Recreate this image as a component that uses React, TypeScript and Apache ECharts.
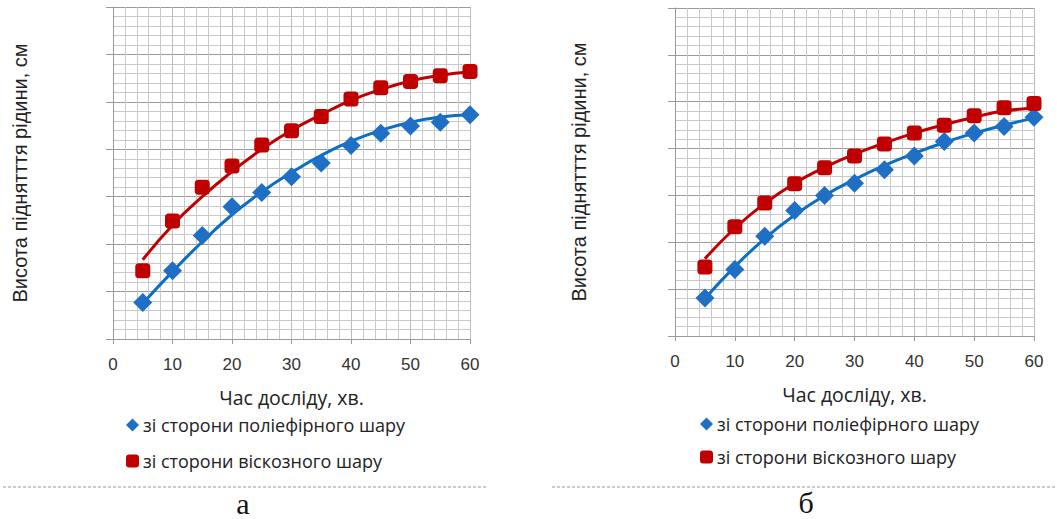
import React, { useEffect, useRef } from "react";
import * as echarts from "echarts";

const minutes = [5, 10, 15, 20, 25, 30, 35, 40, 45, 50, 55, 60];
const xTicks = [0, 10, 20, 30, 40, 50, 60];

const seriesNames = ["зі сторони поліефірного шару", "зі сторони віскозного шару"];

// chart а (measured points)
const aPolyester = [7.7, 14.4, 21.8, 27.9, 30.9, 34.2, 37.1, 40.8, 43.4, 44.9, 45.7, 47.3];
const aViscose = [14.4, 24.9, 32.0, 36.5, 40.9, 43.9, 46.9, 50.6, 53.0, 54.3, 55.5, 56.4];
// chart а (trend curves)
const aPolyesterTrend = [7.5, 14.2, 20.5, 26.2, 31.0, 35.1, 38.7, 41.7, 44.0, 45.7, 46.8, 47.3];
const aViscoseTrend = [16.7, 24.0, 30.0, 35.3, 40.0, 44.0, 47.3, 50.3, 52.6, 54.4, 55.6, 56.3];

// chart б (measured points)
const bPolyester = [8.1, 14.2, 21.3, 26.8, 30.0, 32.6, 35.5, 38.4, 41.5, 43.3, 44.7, 46.7];
const bViscose = [14.7, 23.3, 28.4, 32.5, 35.9, 38.4, 41.0, 43.3, 45.0, 47.0, 48.7, 49.6];
// chart б (trend curves)
const bPolyesterTrend = [8.0, 14.8, 20.8, 25.8, 30.0, 33.4, 36.4, 39.0, 41.3, 43.3, 45.0, 46.5];
const bViscoseTrend = [16.5, 23.0, 28.3, 32.6, 36.0, 38.8, 41.2, 43.3, 45.1, 46.7, 48.0, 48.6];

const captions = ["а", "б"];
const xTitle = "Час досліду, хв.";
const yTitle = "Висота піднятття рідини, см";

const BLUE = "#1f6fc5";
const BLUE_LINE = "#0a6fc2";
const RED = "#c00000";

const pairs = (ys: number[]) => minutes.map((m, i) => [m, ys[i]]);

function makeAxes(idx: number, nameGapY: number) {
  const xAxis = {
    type: "value",
    gridIndex: idx,
    min: 0,
    max: 60,
    interval: 10,
    name: xTitle,
    nameLocation: "middle",
    nameGap: 48,
    nameTextStyle: { fontFamily: "Open Sans", fontSize: 19.5, color: "#222" },
    axisLine: { show: true, lineStyle: { color: "#9a9a9a", width: 1 } },
    axisTick: { show: true, length: 5, lineStyle: { color: "#9a9a9a" } },
    axisLabel: {
      fontFamily: "Liberation Sans",
      fontSize: 17,
      color: "#333",
      margin: 17,
      formatter: (v: number) => (xTicks.includes(v) ? String(v) : ""),
    },
    splitLine: { show: true, lineStyle: { color: "#bdbdbd", width: 1 } },
    minorTick: { show: false, splitNumber: 5 },
    minorSplitLine: { show: true, lineStyle: { color: "#c9c9c9", width: 1 } },
  };
  const yAxis = {
    type: "value",
    gridIndex: idx,
    min: 0,
    max: 70,
    interval: 10,
    name: yTitle,
    nameLocation: "middle",
    nameRotate: 90,
    nameGap: nameGapY,
    nameTextStyle: { fontFamily: "Liberation Sans", fontSize: 20, color: "#222" },
    axisLine: { show: true, lineStyle: { color: "#9a9a9a", width: 1 } },
    axisTick: { show: true, length: 7, lineStyle: { color: "#9a9a9a" } },
    axisLabel: { show: false },
    splitLine: { show: true, lineStyle: { color: "#9a9a9a", width: 1 } },
    minorTick: { show: false, splitNumber: 5 },
    minorSplitLine: { show: true, lineStyle: { color: "#c9c9c9", width: 1 } },
  };
  return { xAxis, yAxis };
}

function makeSeries(idx: number, poly: number[], visc: number[], polyT: number[], viscT: number[]) {
  return [
    {
      name: "trend-poly-" + idx,
      type: "line",
      xAxisIndex: idx,
      yAxisIndex: idx,
      data: pairs(polyT),
      smooth: 0.5,
      showSymbol: false,
      symbol: "none",
      lineStyle: { color: BLUE_LINE, width: 3 },
      z: 3,
    },
    {
      name: "trend-visc-" + idx,
      type: "line",
      xAxisIndex: idx,
      yAxisIndex: idx,
      data: pairs(viscT),
      smooth: 0.5,
      showSymbol: false,
      symbol: "none",
      lineStyle: { color: RED, width: 3 },
      z: 3,
    },
    {
      name: seriesNames[0],
      type: "scatter",
      xAxisIndex: idx,
      yAxisIndex: idx,
      data: pairs(poly),
      symbol: "diamond",
      symbolSize: [19, 19],
      itemStyle: { color: BLUE, opacity: 1 },
      z: 4,
    },
    {
      name: seriesNames[1],
      type: "scatter",
      xAxisIndex: idx,
      yAxisIndex: idx,
      data: pairs(visc),
      symbol: "roundRect",
      symbolSize: [15, 15],
      itemStyle: { color: RED, opacity: 1 },
      z: 5,
    },
  ];
}

function makeLegend(left: number, top: number, gap: number) {
  return {
    orient: "vertical",
    left,
    top,
    padding: 0,
    itemWidth: 13,
    itemHeight: 13,
    itemGap: gap,
    selectedMode: false,
    textStyle: { fontFamily: "Open Sans", fontSize: 18, color: "#222", padding: [0, 0, 0, -1] },
    data: [
      { name: seriesNames[0], icon: "diamond" },
      { name: seriesNames[1], icon: "roundRect" },
    ],
  };
}

export default function App() {
  const ref = useRef<HTMLDivElement>(null);
  useEffect(() => {
    if (!ref.current) return;
    const chart = echarts.init(ref.current, undefined, { renderer: "svg" });
    const a = makeAxes(0, 83);
    const b = makeAxes(1, 86);
    chart.setOption({
      animation: false,
      backgroundColor: "#ffffff",
      grid: [
        { left: 113, top: 7, width: 357, height: 332 },
        { left: 675, top: 8, width: 359, height: 328 },
      ],
      xAxis: [a.xAxis, b.xAxis],
      yAxis: [a.yAxis, b.yAxis],
      legend: [makeLegend(126, 416, 18), makeLegend(700, 415, 15)],
      series: [
        ...makeSeries(0, aPolyester, aViscose, aPolyesterTrend, aViscoseTrend),
        ...makeSeries(1, bPolyester, bViscose, bPolyesterTrend, bViscoseTrend),
      ],
      graphic: [
        {
          type: "line",
          shape: { x1: 3, y1: 487, x2: 487, y2: 487 },
          style: { stroke: "#9a9a9a", lineWidth: 1, lineDash: [3, 2] },
        },
        {
          type: "line",
          shape: { x1: 552, y1: 487, x2: 1057, y2: 487 },
          style: { stroke: "#9a9a9a", lineWidth: 1, lineDash: [3, 2] },
        },
        {
          type: "text",
          x: 243,
          y: 503,
          style: {
            text: captions[0],
            fontFamily: "Liberation Serif",
            fontSize: 30,
            fill: "#111",
            textAlign: "center",
            textVerticalAlign: "middle",
          },
        },
        {
          type: "text",
          x: 806,
          y: 502,
          style: {
            text: captions[1],
            fontFamily: "Liberation Serif",
            fontSize: 30,
            fill: "#111",
            textAlign: "center",
            textVerticalAlign: "middle",
          },
        },
      ],
    });
    return () => chart.dispose();
  }, []);
  return (
    <div
      ref={ref}
      style={{ position: "fixed", left: 0, top: 0, width: 1057, height: 519, background: "#fff" }}
    />
  );
}
